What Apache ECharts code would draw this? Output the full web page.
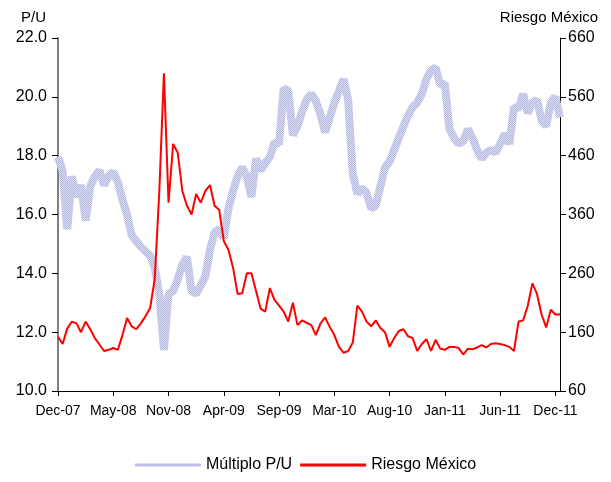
<!DOCTYPE html>
<html>
<head>
<meta charset="utf-8">
<script src="https://cdn.jsdelivr.net/npm/echarts@6/dist/echarts.min.js"></script>
<style>
  html, body { margin: 0; padding: 0; background: #fff; }
  #chart { width: 611px; height: 482px; }
</style>
</head>
<body>
<div id="chart"></div>
<script>
// tick labels every 12 points on the x axis
const tickLabels = ["Dec-07", "May-08", "Nov-08", "Apr-09", "Sep-09", "Mar-10", "Aug-10", "Jan-11", "Jun-11", "Dec-11"];

// Múltiplo P/U (left axis)
const multiploPU = [
  17.95, 17.5, 15.5, 17.3, 16.6, 17.0, 15.8, 16.95, 17.3, 17.5,
  17.0, 17.3, 17.45, 17.1, 16.5, 16.0, 15.3, 15.1, 14.9, 14.75,
  14.6, 14.2, 13.3, 11.4, 13.3, 13.4, 13.8, 14.3, 14.55, 13.4,
  13.3, 13.6, 13.9, 14.8, 15.4, 15.5, 15.2, 16.2, 16.8, 17.3,
  17.6, 17.3, 16.6, 17.9, 17.5, 17.75, 17.95, 18.45, 18.4, 20.3,
  20.2, 18.7, 19.0, 19.5, 19.9, 20.1, 19.85, 19.4, 18.8, 19.3,
  19.8, 20.2, 20.6, 19.9, 17.4, 16.7, 16.9, 16.75, 16.2, 16.3,
  16.95, 17.6, 17.8, 18.2, 18.6, 19.0, 19.35, 19.65, 19.8, 20.1,
  20.6, 20.9, 21.0, 20.4, 20.45, 18.9, 18.6, 18.4, 18.5, 18.9,
  18.6, 18.2, 17.9, 18.1, 18.2, 18.1, 18.4, 18.75, 18.4, 19.65,
  19.6, 20.1, 19.45, 19.8, 19.9, 19.2, 19.0, 19.8, 20.0, 19.3
];

// Riesgo México (right axis)
const riesgoMexico = [
  152, 140, 166, 178, 175, 160, 178, 165, 150, 139,
  128, 130, 133, 130, 155, 184, 170, 165, 175, 187,
  201, 250, 400, 600, 380, 480, 465, 400, 375, 360,
  395, 380, 400, 410, 375, 368, 315, 300, 270, 225,
  226, 260, 260, 230, 200, 195, 235, 215, 205, 195,
  178, 210, 172, 180, 176, 172, 155, 175, 185, 169,
  155, 135, 125, 128, 142, 205, 195, 178, 170, 180,
  167, 160, 135, 150, 162, 165, 153, 150, 128, 140,
  148, 128, 147, 132, 130, 135, 135, 133, 122, 132,
  131, 134, 138, 134, 140, 141, 140, 138, 135, 128,
  178, 180, 205, 243, 225, 190, 168, 198, 190, 190
];

const categories = multiploPU.map((v, i) => String(i));
const FONT = "Liberation Sans, Arial, sans-serif";

// checkered lavender fill for the P/U band
const pat = document.createElement("canvas");
pat.width = 2;
pat.height = 2;
const pctx = pat.getContext("2d");
pctx.fillStyle = "#dcdef1";
pctx.fillRect(0, 0, 2, 2);
pctx.fillStyle = "#b3b6df";
pctx.fillRect(0, 0, 1, 1);
pctx.fillRect(1, 1, 1, 1);
const bandColor = { image: pat, repeat: "repeat" };

const isTick = (i) => i % 12 === 0;

const chart = echarts.init(document.getElementById("chart"), null, { renderer: "canvas" });
chart.setOption({
  animation: false,
  textStyle: { fontFamily: FONT },
  grid: { left: 58, right: 51, top: 38, bottom: 91, containLabel: false },
  legend: {
    bottom: 4,
    left: "center",
    itemWidth: 66,
    itemHeight: 3,
    itemGap: 8,
    textStyle: { fontSize: 16, color: "#000", fontFamily: FONT },
    data: [
      { name: "Múltiplo P/U", icon: "rect", itemStyle: { color: "#bcbfe3" } },
      { name: "Riesgo México", icon: "rect", itemStyle: { color: "#ff0000" } }
    ]
  },
  xAxis: {
    type: "category",
    boundaryGap: false,
    data: categories,
    axisLine: { lineStyle: { color: "#000", width: 1 } },
    axisTick: { interval: isTick, length: 5, lineStyle: { color: "#000" } },
    axisLabel: {
      interval: isTick,
      fontSize: 14,
      color: "#000",
      margin: 13,
      formatter: (v, i) => tickLabels[i / 12] || ""
    },
    splitLine: { show: false }
  },
  yAxis: [
    {
      type: "value",
      min: 10,
      max: 22,
      interval: 2,
      name: "P/U",
      nameTextStyle: { fontSize: 15, color: "#000", align: "right", padding: [0, 12, 0, 0] },
      nameGap: 13,
      axisLine: { show: true, lineStyle: { color: "#808080", width: 2 } },
      axisTick: { show: true, length: 6, lineStyle: { color: "#000" } },
      axisLabel: { fontSize: 16, color: "#000", margin: 11, formatter: (v) => v.toFixed(1) },
      splitLine: { show: false }
    },
    {
      type: "value",
      min: 60,
      max: 660,
      interval: 100,
      name: "Riesgo México",
      nameTextStyle: { fontSize: 15, color: "#000", align: "center", padding: [0, 22, 0, 0] },
      nameGap: 13,
      axisLine: { show: true, lineStyle: { color: "#000", width: 1 } },
      axisTick: { show: true, length: 6, lineStyle: { color: "#000" } },
      axisLabel: { fontSize: 16, color: "#000", margin: 8 },
      splitLine: { show: false }
    }
  ],
  series: [
    {
      name: "Múltiplo P/U",
      type: "line",
      yAxisIndex: 0,
      data: multiploPU,
      symbol: "none",
      z: 1,
      lineStyle: { width: 8, color: bandColor },
      itemStyle: { color: "#bcbfe3" }
    },
    {
      name: "Riesgo México",
      type: "line",
      yAxisIndex: 1,
      data: riesgoMexico,
      symbol: "none",
      z: 2,
      lineStyle: { width: 2, color: "#ff0000" },
      itemStyle: { color: "#ff0000" }
    }
  ]
});
</script>
</body>
</html>
